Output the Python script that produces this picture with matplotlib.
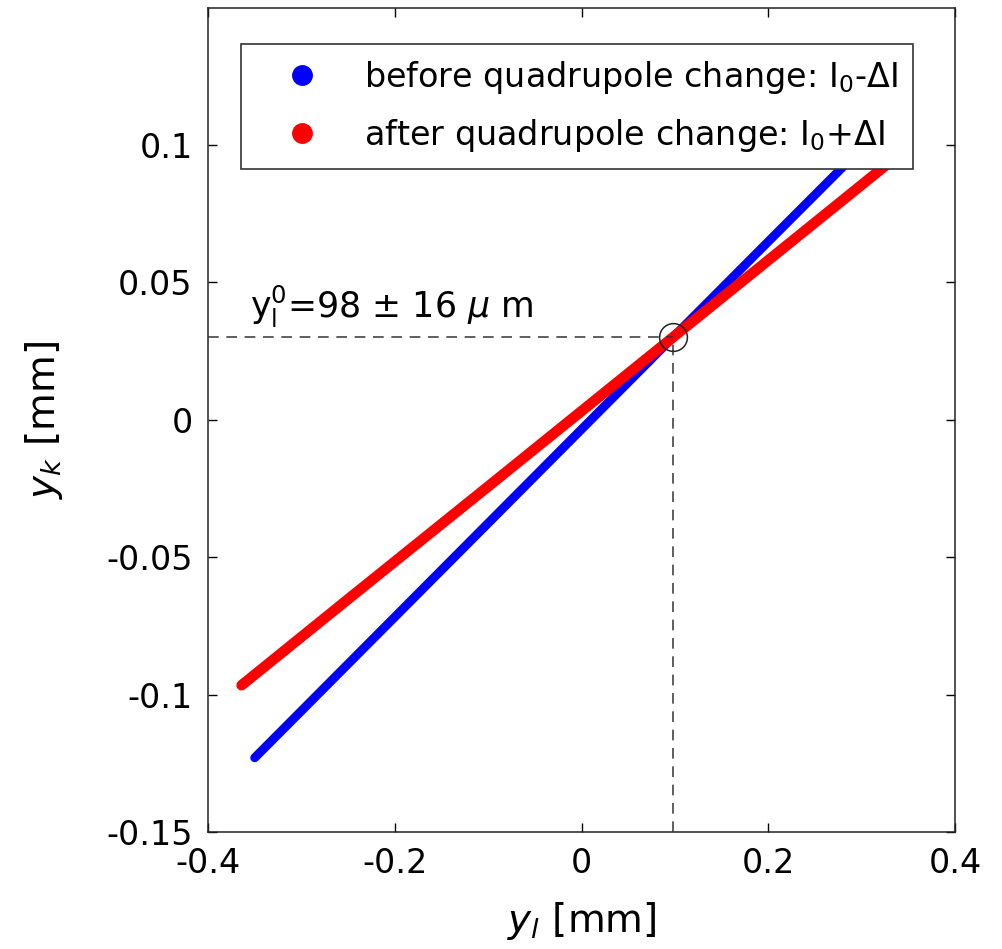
import matplotlib
matplotlib.use('Agg')
import matplotlib.pyplot as plt
from matplotlib.lines import Line2D

# Данные (мм)
blue_yl = [-0.350, -0.200, 0.000, 0.098, 0.200, 0.330]
blue_yk = [-0.123, -0.0718, -0.0035, 0.030, 0.0648, 0.109]
red_yl = [-0.364, -0.250, -0.100, 0.098, 0.200, 0.340]
red_yk = [-0.0966, -0.0653, -0.0243, 0.030, 0.058, 0.0964]

cross_yl = 0.098
cross_yk = 0.030

x_ticks = [-0.4, -0.2, 0, 0.2, 0.4]
x_labels = ['-0.4', '-0.2', '0', '0.2', '0.4']
y_ticks = [-0.15, -0.1, -0.05, 0, 0.05, 0.1]
y_labels = ['-0.15', '-0.1', '-0.05', '0', '0.05', '0.1']

legend_labels = [r'before quadrupole change: I$_0$-ΔI',
                 r'after quadrupole change: I$_0$+ΔI']


def draw_graph():
    plt.rcParams['font.family'] = ['DejaVu Sans']
    plt.rcParams['axes.unicode_minus'] = False

    fig = plt.figure(figsize=(10.02, 9.49), dpi=100)
    ax = fig.add_axes([0.2076, 0.1233, 0.7455, 0.8683])

    ax.plot(blue_yl, blue_yk, color='#0000ff', lw=6.4, solid_capstyle='round', zorder=2)
    ax.plot(red_yl, red_yk, color='#ff0000', lw=7.6, solid_capstyle='round', zorder=3)

    # пунктирные линии к точке пересечения
    ax.plot([-0.4, cross_yl], [cross_yk, cross_yk], color='#333333', lw=1.1,
            dashes=(7, 5), zorder=4)
    ax.plot([cross_yl, cross_yl], [-0.15, cross_yk], color='#333333', lw=1.1,
            dashes=(7, 5), zorder=4)
    ax.plot([cross_yl], [cross_yk], marker='o', ms=20, mfc='none', mec='#222222',
            mew=1.1, zorder=5)

    ax.text(-0.355, 0.0325, r'y$_\mathrm{l}^\mathrm{0}$=98 ± 16 $\mu$ m', fontsize=25,
            ha='left', va='bottom')

    ax.set_xlim(-0.4, 0.4)
    ax.set_ylim(-0.15, 0.1498)
    ax.set_xticks(x_ticks)
    ax.set_xticklabels(x_labels)
    ax.set_yticks(y_ticks)
    ax.set_yticklabels(y_labels)
    ax.tick_params(direction='in', length=6.5, width=1, top=True, right=True,
                   labelsize=24, pad=11)
    for s in ax.spines.values():
        s.set_linewidth(1.1)
        s.set_color('#222222')

    ax.set_xlabel(r'$y_l$ [mm]', fontsize=28, labelpad=14)
    ax.set_ylabel(r'$y_k$ [mm]', fontsize=28, labelpad=30)

    handles = [Line2D([], [], ls='none', marker='o', ms=14, color='#0000ff'),
               Line2D([], [], ls='none', marker='o', ms=14, color='#ff0000')]
    leg = ax.legend(handles, legend_labels, loc='upper left',
                    bbox_to_anchor=(0.0442, 0.9563), borderaxespad=0,
                    fontsize=24, fancybox=False, framealpha=1,
                    edgecolor='#333333', handlelength=2.75, handletextpad=0.5,
                    borderpad=0.45, labelspacing=0.62)
    leg.get_frame().set_linewidth(1.2)

    fig.savefig('out.png', dpi=100)


def main():
    draw_graph()


if __name__ == '__main__':
    main()
